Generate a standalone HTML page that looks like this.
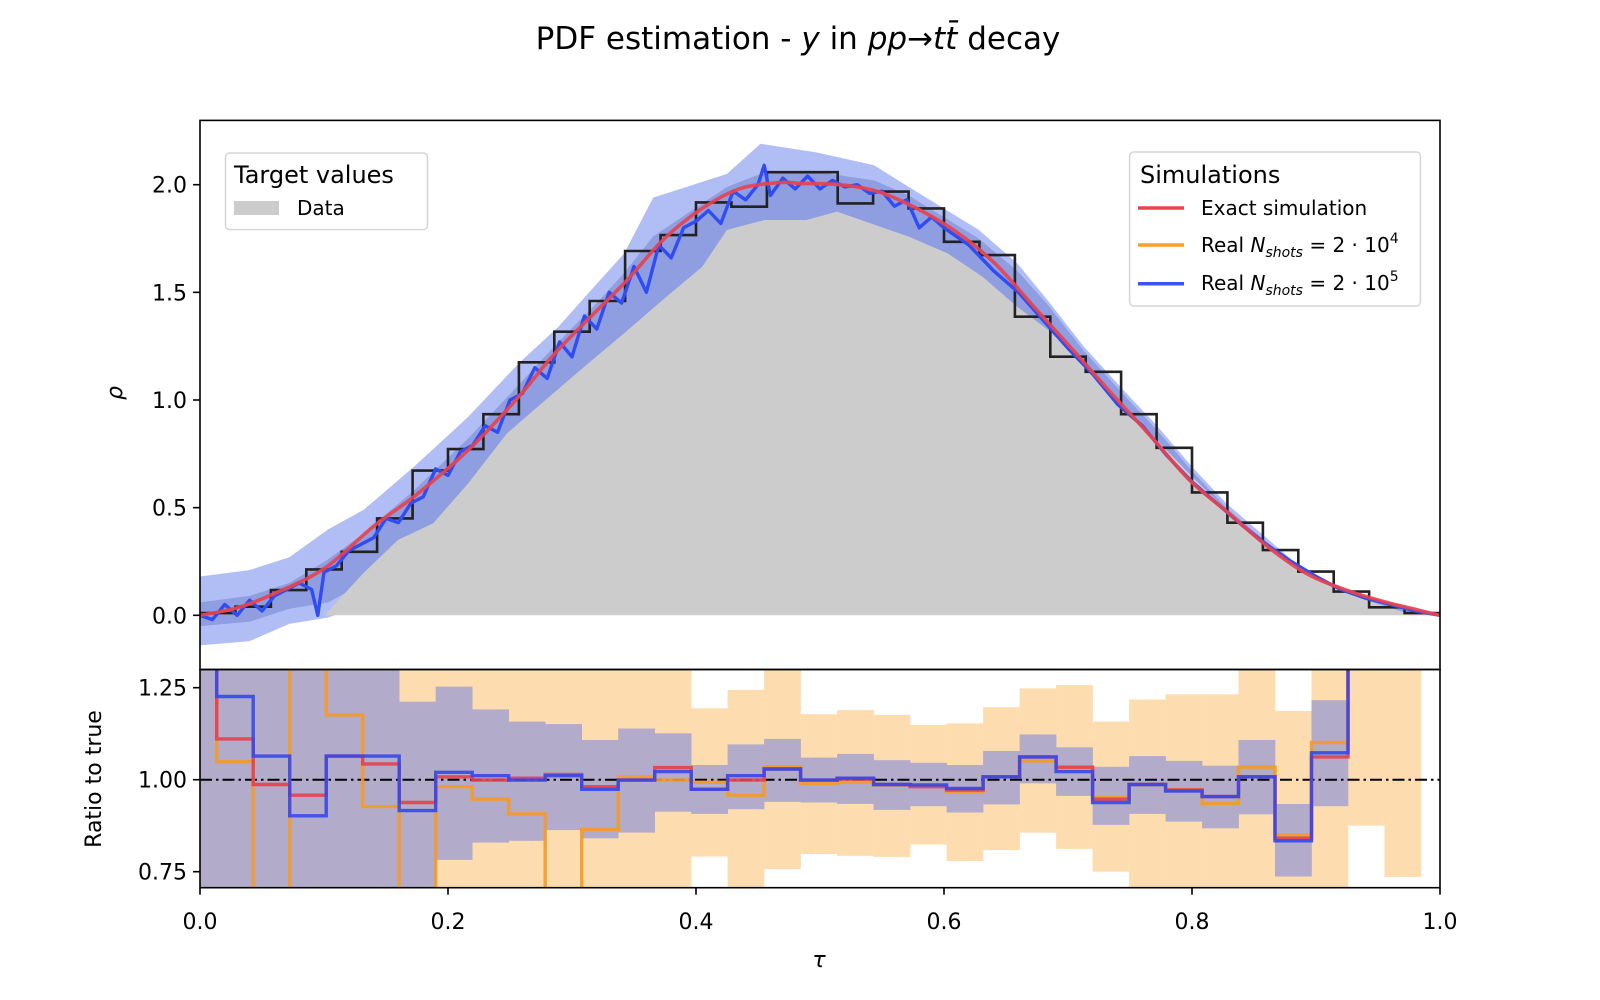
<!DOCTYPE html>
<html><head><meta charset="utf-8"><style>
html,body{margin:0;padding:0;background:#fff;}
svg{display:block;font-family:"DejaVu Sans","Liberation Sans",sans-serif;}
</style></head><body>
<svg id="chart" width="1600" height="1000" viewBox="0 0 1600 1000" xmlns="http://www.w3.org/2000/svg">
<defs>
<clipPath id="clipTop"><rect x="200" y="120.4" width="1240" height="549.1"/></clipPath>
<clipPath id="clipBot"><rect x="200" y="669.5" width="1240" height="218.2"/></clipPath>
</defs>
<rect width="1600" height="1000" fill="#fff"/>
<text x="798" y="49" text-anchor="middle" font-size="31" fill="#000">PDF estimation - <tspan font-style="italic">y</tspan> in <tspan font-style="italic">pp</tspan>→<tspan font-style="italic">tt̄</tspan> decay</text>
<g id="topPlot" clip-path="url(#clipTop)"></g>
<g id="botPlot" clip-path="url(#clipBot)"></g>
<g id="axes"></g>
<rect x="200" y="120.4" width="1240" height="549.1" fill="none" stroke="#000" stroke-width="1.6"/>
<rect x="200" y="669.5" width="1240" height="218.2" fill="none" stroke="#000" stroke-width="1.6"/>
<text transform="translate(122,393) rotate(-90)" text-anchor="middle" font-size="22" font-style="italic">ρ</text>
<text transform="translate(101,779) rotate(-90)" text-anchor="middle" font-size="22">Ratio to true</text>
<text x="819" y="967" text-anchor="middle" font-size="22" font-style="italic">τ</text>

<g>
<rect x="225.5" y="153" width="202" height="76.6" rx="4" fill="#fff" fill-opacity="0.85" stroke="#d6d6d6" stroke-width="1.5"/>
<text x="234" y="183" font-size="24">Target values</text>
<rect x="234" y="201" width="45" height="14" fill="#cccccc"/>
<text x="297" y="215" font-size="20">Data</text>
</g>
<g>
<rect x="1129.6" y="152" width="290.8" height="154" rx="4" fill="#fff" fill-opacity="0.85" stroke="#d6d6d6" stroke-width="1.5"/>
<text x="1140" y="183" font-size="24">Simulations</text>
<line x1="1138" y1="208" x2="1184" y2="208" stroke="#e8434f" stroke-width="3.5"/>
<text x="1201" y="215" font-size="20">Exact simulation</text>
<line x1="1138" y1="245" x2="1184" y2="245" stroke="#f5a030" stroke-width="3.5"/>
<text x="1201" y="252" font-size="20">Real <tspan font-style="italic">N</tspan><tspan font-style="italic" font-size="14" dy="5">shots</tspan><tspan dy="-5"> = 2 · 10</tspan><tspan font-size="14" dy="-9">4</tspan></text>
<line x1="1138" y1="283.7" x2="1184" y2="283.7" stroke="#3a55f0" stroke-width="3.5"/>
<text x="1201" y="290" font-size="20">Real <tspan font-style="italic">N</tspan><tspan font-style="italic" font-size="14" dy="5">shots</tspan><tspan dy="-5"> = 2 · 10</tspan><tspan font-size="14" dy="-9">5</tspan></text>
</g>
</svg>
<script>
// ---------- data ----------
const histValues = [0.01,0.04,0.117,0.213,0.295,0.45,0.672,0.772,0.934,1.175,1.317,1.46,1.692,1.766,1.918,1.898,2.058,2.058,1.913,1.968,1.89,1.735,1.673,1.387,1.201,1.131,0.934,0.778,0.571,0.43,0.303,0.203,0.11,0.037,0.01];
const dataX = [0.1003,0.1317,0.1597,0.188,0.2164,0.2475,0.2786,0.31,0.342,0.373,0.405,0.425,0.455,0.489,0.5137,0.5715,0.603,0.631,0.659,0.684,0.7125,0.744,0.7717,0.80,0.8276,0.856,0.884,0.9125,0.94,0.974,1.0];
const dataY = [0,0.195,0.35,0.427,0.613,0.845,1.0,1.155,1.31,1.464,1.619,1.79,1.836,1.836,1.875,1.759,1.681,1.573,1.433,1.325,1.17,0.985,0.814,0.644,0.489,0.35,0.226,0.133,0.071,0.009,0];
const bandX = [0,0.04,0.072,0.1035,0.132,0.1725,0.216,0.257,0.289,0.32,0.342,0.3655,0.425,0.452,0.497,0.5436,0.5715,0.628,0.659,0.684,0.7125,0.744,0.7717,0.80,0.8276,0.856,0.884,0.9125,0.94,0.974,1.0];
const band4Hi = [0.18,0.21,0.27,0.40,0.49,0.69,0.92,1.17,1.34,1.54,1.68,1.94,2.05,2.19,2.15,2.09,1.99,1.79,1.635,1.46,1.25,1.05,0.88,0.69,0.52,0.38,0.24,0.15,0.086,0.02,0];
const band4Lo = [-0.14,-0.12,-0.04,-0.01,0.05,0.15,0.3,0.5,0.7,0.9,1.05,1.2,1.5,1.6,1.6,1.6,1.5,1.4,1.2,1.1,0.9,0.75,0.6,0.45,0.32,0.2,0.1,0.05,0.02,0,0];
const band5Hi = [0.06,0.09,0.15,0.26,0.38,0.58,0.82,1.07,1.27,1.45,1.59,1.76,1.99,2.05,2.06,2.02,1.95,1.75,1.6,1.44,1.23,1.03,0.86,0.67,0.5,0.36,0.22,0.14,0.08,0.02,0];
const band5Lo = [-0.05,-0.03,0.03,0.06,0.15,0.3,0.45,0.65,0.85,1.0,1.15,1.3,1.6,1.7,1.7,1.7,1.6,1.45,1.3,1.15,1.0,0.85,0.7,0.55,0.4,0.28,0.17,0.1,0.05,0.01,0];
const exactX = [0,0.03,0.0595,0.1003,0.1411,0.1725,0.2164,0.257,0.2886,0.342,0.3733,0.405,0.436,0.468,0.484,0.5153,0.5467,0.578,0.6096,0.641,0.6725,0.704,0.735,0.767,0.798,0.8296,0.861,0.892,0.924,0.955,0.977,1.0];
const exactY = [0,0.035,0.10,0.218,0.419,0.551,0.768,1.015,1.232,1.542,1.743,1.89,1.983,2.01,2.006,2.0,1.968,1.89,1.782,1.635,1.433,1.232,1.031,0.83,0.628,0.474,0.319,0.195,0.118,0.063,0.032,0];
const realX = [0,0.01,0.02,0.03,0.04,0.05,0.06,0.07,0.08,0.09,0.095,0.10,0.11,0.12,0.13,0.14,0.15,0.16,0.17,0.18,0.19,0.20,0.21,0.22,0.23,0.24,0.25,0.26,0.27,0.28,0.29,0.30,0.31,0.32,0.33,0.34,0.35,0.36,0.37,0.38,0.39,0.40,0.41,0.42,0.43,0.44,0.45,0.455,0.46,0.47,0.48,0.49,0.50,0.51,0.52,0.53,0.54,0.55,0.56,0.57,0.58,0.59,0.60,0.62,0.64,0.66,0.68,0.70,0.72,0.74,0.76,0.78,0.80,0.82,0.84,0.86,0.88,0.90,0.92,0.94,0.96,0.98,1.0];
const realY = [0.0,-0.02,0.05,0.0,0.07,0.02,0.09,0.12,0.15,0.12,0.0,0.2,0.23,0.3,0.33,0.36,0.45,0.43,0.52,0.55,0.68,0.65,0.76,0.79,0.88,0.85,1.0,1.03,1.15,1.10,1.27,1.20,1.39,1.33,1.50,1.45,1.62,1.50,1.72,1.66,1.80,1.83,1.88,1.82,1.97,1.93,2.0,2.09,1.95,2.03,1.98,2.04,1.98,2.02,1.99,2.0,1.96,1.97,1.90,1.93,1.80,1.85,1.80,1.72,1.60,1.50,1.37,1.24,1.12,0.98,0.88,0.74,0.62,0.52,0.42,0.33,0.25,0.18,0.12,0.08,0.05,0.02,0.0];
const ratioExact = [1.5,1.111,0.987,0.958,1.064,1.043,0.938,1.008,0.999,1.004,1.014,0.981,0.999,1.033,0.974,0.999,1.029,0.999,1.002,0.987,0.981,0.972,1.008,1.062,1.034,0.947,0.987,0.972,0.954,1.008,0.841,1.062,1.6,1.6];
const ratio2e4 = [1.5,1.049,0.5,1.6,1.176,0.927,0.5,0.981,0.947,0.907,0.5,0.865,1.008,0.999,0.993,0.958,1.035,0.990,0.993,0.986,0.983,0.967,1.008,1.051,1.034,0.952,0.987,0.974,0.936,1.034,0.850,1.101,1.6,1.6];
const ratio2e5 = [1.5,1.226,1.064,0.902,1.064,1.064,0.916,1.020,1.011,0.999,1.011,0.974,0.999,1.022,0.974,1.011,1.029,0.999,1.004,0.987,0.986,0.976,1.008,1.062,1.022,0.938,0.987,0.969,0.954,1.008,0.834,1.073,1.6,1.6];
const err2e4Hi = [1.5,1.5,1.5,1.5,1.5,1.5,1.5,1.5,1.5,1.5,1.5,1.5,1.5,1.5,1.194,1.244,1.5,1.178,1.189,1.176,1.149,1.153,1.197,1.248,1.257,1.158,1.218,1.232,1.232,1.5,1.187,1.5,1.5,1.5];
const err2e4Lo = [0.5,0.5,0.5,0.5,0.5,0.5,0.5,0.5,0.5,0.5,0.5,0.5,0.5,0.5,0.791,0.5,0.757,0.798,0.793,0.790,0.824,0.779,0.809,0.856,0.812,0.750,0.5,0.5,0.5,0.5,0.5,0.5,0.875,0.736];
const err2e5Hi = [1.5,1.5,1.5,1.5,1.5,1.5,1.212,1.253,1.191,1.158,1.151,1.108,1.139,1.126,1.040,1.096,1.111,1.060,1.070,1.053,1.046,1.040,1.078,1.123,1.088,1.035,1.064,1.051,1.038,1.108,0.934,1.216,null,null];
const err2e5Lo = [0.5,0.5,0.5,0.5,0.5,0.5,0.5,0.782,0.829,0.834,0.863,0.841,0.856,0.913,0.907,0.920,0.940,0.938,0.934,0.918,0.928,0.911,0.933,0.99,0.956,0.877,0.907,0.886,0.868,0.906,0.737,0.928,null,null];
const topTicks = [0.0,0.5,1.0,1.5,2.0];
const topTickLabels = ["0.0","0.5","1.0","1.5","2.0"];
const ratioTicks = [0.75,1.00,1.25];
const ratioTickLabels = ["0.75","1.00","1.25"];
const xTicks = [0,0.2,0.4,0.6,0.8,1.0];
const xTickLabels = ["0.0","0.2","0.4","0.6","0.8","1.0"];
const ratioStart = 0.0135, ratioWidth = 0.02943;

// ---------- scales ----------
const NS = "http://www.w3.org/2000/svg";
const X = v => 200 + v * 1240;
const Y = v => 615.3 - v * 215.3;
const R = v => 779.7 - (v - 1) * 368;
function mk(parent, tag, attrs) {
  const e = document.createElementNS(NS, tag);
  for (const k in attrs) e.setAttribute(k, attrs[k]);
  parent.appendChild(e);
  return e;
}
const topG = document.getElementById('topPlot');
const botG = document.getElementById('botPlot');
const axesG = document.getElementById('axes');

function bandPath(xs, hi, lo) {
  let d = '';
  xs.forEach((x, i) => { d += (i ? 'L' : 'M') + X(x).toFixed(1) + ',' + Y(hi[i]).toFixed(1); });
  for (let i = xs.length - 1; i >= 0; i--) d += 'L' + X(xs[i]).toFixed(1) + ',' + Y(lo[i]).toFixed(1);
  return d + 'Z';
}
let el;
el = mk(topG, 'path', {d: bandPath(bandX, band4Hi, band4Lo), fill: '#b1bef5'});


el = mk(topG, 'path', {d: bandPath(bandX, band5Hi, band5Lo), fill: '#8f9ee0'});



let dd = 'M' + X(dataX[0]) + ',' + Y(0);
dataX.forEach((x, i) => { dd += 'L' + X(x).toFixed(1) + ',' + Y(dataY[i]).toFixed(1); });
dd += 'L' + X(dataX[dataX.length - 1]) + ',' + Y(0) + 'Z';
el = mk(topG, 'path', {d: dd, fill: '#cccccc'});



const nb = histValues.length;
let hd = 'M' + X(0) + ',' + Y(0);
histValues.forEach((v, i) => {
  hd += 'L' + X(i / nb).toFixed(1) + ',' + Y(v).toFixed(1) + 'L' + X((i + 1) / nb).toFixed(1) + ',' + Y(v).toFixed(1);
});
hd += 'L' + X(1) + ',' + Y(0);
el = mk(topG, 'path', {d: hd, fill: 'none', stroke: '#222', 'stroke-width': 2.6});



let bd = '';
realX.forEach((x, i) => { bd += (i ? 'L' : 'M') + X(x).toFixed(1) + ',' + Y(realY[i]).toFixed(1); });
el = mk(topG, 'path', {d: bd, fill: 'none', stroke: '#2f4df2', 'stroke-width': 3.4, 'stroke-linejoin': 'round'});



const pts = exactX.map((x, i) => [X(x), Y(exactY[i])]);
let rd = 'M' + pts[0][0] + ',' + pts[0][1];
for (let i = 0; i < pts.length - 1; i++) {
  const p0 = pts[Math.max(0, i - 1)], p1 = pts[i], p2 = pts[i + 1], p3 = pts[Math.min(pts.length - 1, i + 2)];
  const c1 = [p1[0] + (p2[0] - p0[0]) / 6, p1[1] + (p2[1] - p0[1]) / 6];
  const c2 = [p2[0] - (p3[0] - p1[0]) / 6, p2[1] - (p3[1] - p1[1]) / 6];
  rd += 'C' + c1[0].toFixed(1) + ',' + c1[1].toFixed(1) + ' ' + c2[0].toFixed(1) + ',' + c2[1].toFixed(1) + ' ' + p2[0].toFixed(1) + ',' + p2[1].toFixed(1);
}
el = mk(topG, 'path', {d: rd, fill: 'none', stroke: '#e8434f', 'stroke-width': 3.6, 'stroke-opacity': 0.92});



// ---------- ratio panel ----------
const edge = i => ratioStart + (i - 1) * ratioWidth;
function clampR(v) { return Math.max(0.4, Math.min(1.7, v)); }
function drawBand(hi, lo, color, name) {
  hi.forEach((h, i) => {
    if (h === null || lo[i] === null) return;
    const x0 = X(edge(i)), x1 = X(edge(i + 1));
    const r = mk(botG, 'rect', {x: x0.toFixed(1), y: R(clampR(h)).toFixed(1), width: (x1 - x0 + 0.3).toFixed(1), height: (R(clampR(lo[i])) - R(clampR(h))).toFixed(1), fill: color});
    
    
  });
}
drawBand(err2e4Hi, err2e4Lo, '#fddcb0', 'ratio-band-2e4');
drawBand(err2e5Hi, err2e5Lo, '#b3abca', 'ratio-band-2e5');

el = mk(botG, 'line', {x1: 200, x2: 1440, y1: R(1), y2: R(1), stroke: '#000', 'stroke-width': 2, 'stroke-dasharray': '12,4,2.5,4'});



function stepPath(vals) {
  let d = '';
  vals.forEach((v, i) => {
    const y = R(clampR(v)).toFixed(1);
    d += (i ? 'L' : 'M') + X(edge(i)).toFixed(1) + ',' + y + 'L' + X(edge(i + 1)).toFixed(1) + ',' + y;
  });
  return d;
}
el = mk(botG, 'path', {d: stepPath(ratio2e4), fill: 'none', stroke: '#f39a28', 'stroke-width': 3.4, 'stroke-opacity': 0.9});


el = mk(botG, 'path', {d: stepPath(ratioExact), fill: 'none', stroke: '#e5404c', 'stroke-width': 3.4, 'stroke-opacity': 0.9});


el = mk(botG, 'path', {d: stepPath(ratio2e5), fill: 'none', stroke: '#3548e8', 'stroke-width': 3.4, 'stroke-opacity': 0.9});



// ---------- axes ----------
topTicks.forEach((t, i) => {
  el = mk(axesG, 'line', {x1: 193, x2: 200, y1: Y(t), y2: Y(t), stroke: '#000', 'stroke-width': 1.6});
  
  
  el = mk(axesG, 'text', {x: 187, y: Y(t) + 8, 'text-anchor': 'end', 'font-size': 22});
  el.textContent = topTickLabels[i];
  
  
});
ratioTicks.forEach((t, i) => {
  el = mk(axesG, 'line', {x1: 193, x2: 200, y1: R(t), y2: R(t), stroke: '#000', 'stroke-width': 1.6});
  
  
  el = mk(axesG, 'text', {x: 187, y: R(t) + 8, 'text-anchor': 'end', 'font-size': 22});
  el.textContent = ratioTickLabels[i];
  
  
});
xTicks.forEach((t, i) => {
  el = mk(axesG, 'line', {x1: X(t), x2: X(t), y1: 887.7, y2: 894.7, stroke: '#000', 'stroke-width': 1.6});
  
  
  el = mk(axesG, 'text', {x: X(t), y: 929, 'text-anchor': 'middle', 'font-size': 22});
  el.textContent = xTickLabels[i];
  
  
});
</script>
</body></html>
